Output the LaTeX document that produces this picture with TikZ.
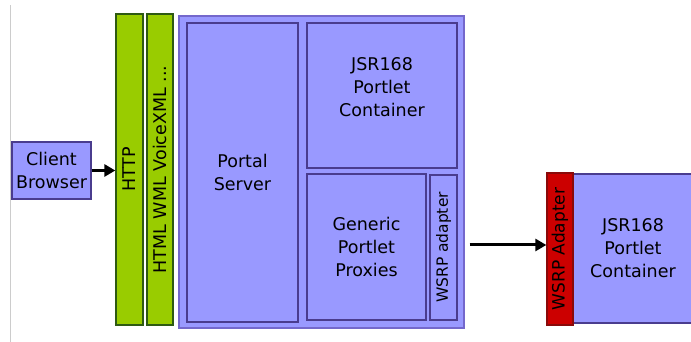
\documentclass[tikz,border=0pt]{standalone}
\usepackage{fontspec}
\setmainfont{DejaVu Sans}
\usetikzlibrary{arrows.meta}
\definecolor{boxfill}{HTML}{9999FF}
\definecolor{boxline}{HTML}{4A3C8E}
\definecolor{outerline}{HTML}{7468CC}
\definecolor{barfill}{HTML}{99CC00}
\definecolor{barline}{HTML}{2E5A12}
\definecolor{redfill}{HTML}{CC0000}
\definecolor{redline}{HTML}{8A0A0A}
\begin{document}
\begin{tikzpicture}[x=1pt,y=1pt,
    box/.style={draw=boxline, fill=boxfill, line width=1.3pt, align=center,
      inner sep=0pt, font=\fontsize{17.5}{23}\selectfont},
    outer/.style={draw=outerline, fill=boxfill, line width=1.3pt},
    bar/.style={draw=barline, fill=barfill, line width=1.3pt, rotate=90,
      inner sep=0pt, font=\fontsize{17.5}{20}\selectfont},
    adapter/.style={draw=redline, fill=redfill, line width=1.3pt, rotate=90,
      inner sep=0pt, font=\fontsize{17}{20}\selectfont},
    arr/.style={line width=3pt, -{Triangle[length=11pt,width=12pt]}}]
        \useasboundingbox (0,0) rectangle (691,342);
        \clip (0,0) rectangle (691,342);

        \draw [black!20, line width=0.8pt] (10,0) -- (10,337);

        % client side
        \node [box, minimum width=79, minimum height=57] (client) at (51.5,171.5) {Client\\Browser};
        \node [bar, minimum width=311, minimum height=27] (http) at (129.5,172.5) {HTTP};
        \node [bar, minimum width=311, minimum height=26] (markup) at (160,172.5) {HTML WML VoiceXML ...};

        % portal server
        \node [outer, minimum width=285, minimum height=312] (server) at (321.5,170) {};
        \node [box, minimum width=111, minimum height=299] (portal) at (242.5,169.5) {Portal\\Server};
        \node [box, minimum width=150, minimum height=145] (jsr) at (382,246.5) {};
        \node [align=center, font=\fontsize{17.5}{23}\selectfont] (jsrtext) at ([yshift=8]jsr.center) {JSR168\\Portlet\\Container};
        \node [box, minimum width=119, minimum height=146] (proxies) at (366.5,95) {Generic\\Portlet\\Proxies};
        \node [box, rotate=90, minimum width=145, minimum height=27,
               font=\fontsize{15.5}{18}\selectfont] (wsrp) at (443.5,94.5) {WSRP adapter};

        % remote container
        \node [box, minimum width=120, minimum height=149] (remote) at (633,93.5) {JSR168\\Portlet\\Container};
        \node [adapter, minimum width=152, minimum height=26] (wsrpR) at (560,93) {WSRP Adapter};

        \draw [arr] (client.east) -- (client.east -| http.north);
        \draw [arr, shorten <=5pt] (server.east |- 0,97) -- (wsrpR.north |- 0,97);
\end{tikzpicture}
\end{document}
